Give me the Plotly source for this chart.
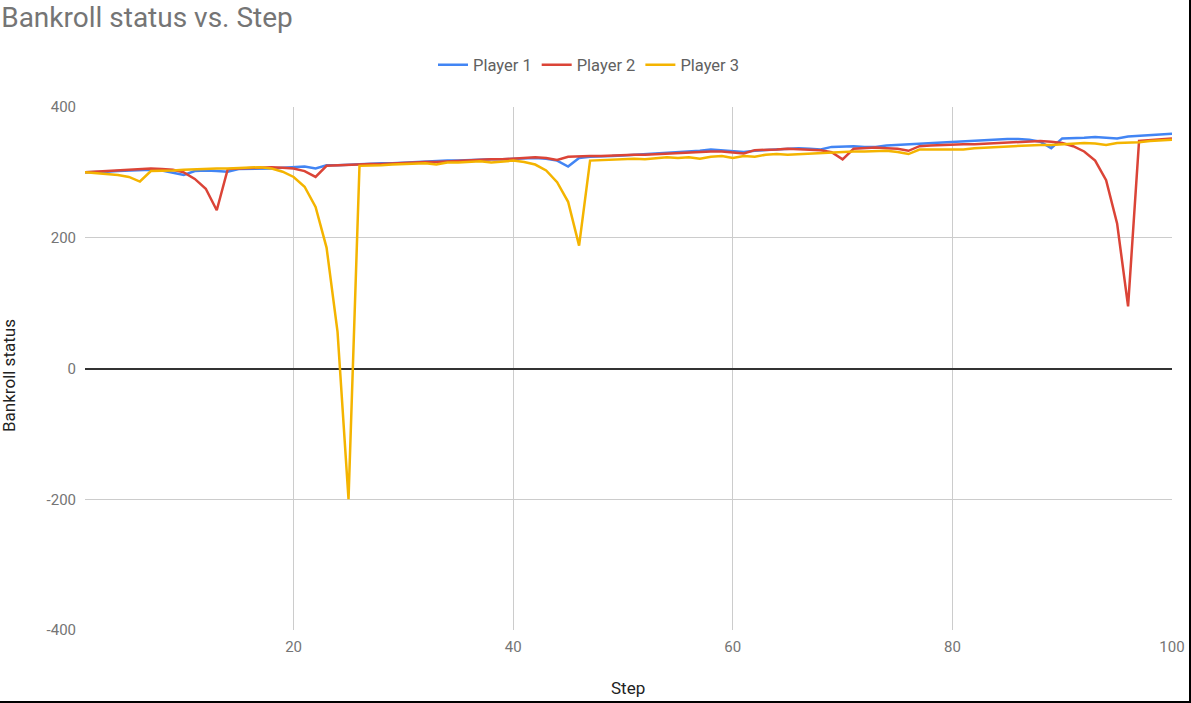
import plotly.graph_objects as go

steps = list(range(1, 101))

player1 = [300, 300, 301, 302, 303, 303, 304, 303, 299, 296,
           302, 303, 302, 301, 305, 305, 306, 306, 307, 308,
           309, 306, 311, 311, 312, 313, 313, 314, 314, 315,
           316, 316, 317, 318, 318, 319, 320, 320, 320, 321,
           322, 322, 321, 318, 309, 322, 324, 324, 325, 326,
           327, 328, 329, 330, 330, 331, 333, 335, 334, 332,
           331, 333, 334, 336, 337, 337, 336, 335, 339, 340,
           340, 339, 339, 341, 342, 343, 344, 345, 345, 346,
           347, 348, 349, 350, 351, 351, 350, 347, 337, 352,
           352, 353, 354, 353, 352, 355, 356, 357, 357, 359]

player2 = [300, 301, 302, 303, 304, 305, 306, 305, 304, 300,
           290, 275, 242, 305, 306, 307, 307, 308, 307, 306,
           302, 293, 310, 311, 312, 312, 313, 313, 314, 315,
           316, 316, 316, 317, 318, 318, 319, 320, 320, 321,
           323, 323, 322, 319, 324, 325, 325, 325, 326, 326,
           327, 327, 328, 329, 329, 330, 331, 332, 332, 331,
           329, 334, 334, 335, 336, 335, 335, 334, 331, 320,
           336, 337, 338, 337, 336, 333, 340, 341, 342, 342,
           343, 343, 344, 345, 346, 347, 347, 348, 347, 345,
           340, 332, 318, 288, 222, 95, 348, 349, 350, 352]

player3 = [300, 299, 298, 296, 293, 286, 302, 302, 303, 304,
           305, 305, 306, 306, 307, 308, 308, 306, 301, 293,
           278, 247, 185, 56, -200, 310, 310, 311, 312, 313,
           313, 314, 312, 315, 315, 316, 317, 315, 317, 318,
           316, 312, 303, 285, 255, 188, 318, 319, 320, 320,
           321, 320, 322, 323, 322, 323, 321, 324, 325, 322,
           325, 324, 327, 328, 327, 328, 329, 330, 330, 331,
           332, 332, 333, 333, 331, 328, 335, 335, 336, 336,
           335, 337, 338, 338, 339, 340, 341, 342, 342, 343,
           344, 345, 344, 342, 345, 345, 346, 348, 349, 350]

series_names = ["Player 1", "Player 2", "Player 3"]
series_colors = ["#4285F4", "#DB4437", "#F4B400"]
x_ticks = [20, 40, 60, 80, 100]
y_ticks = [-400, -200, 0, 200, 400]
y_tick_labels = ["-400", "-200", "0", "200", "400"]

W, H = 1191, 703
L, R, T, B = 85, 19, 107, 73
pw, ph = W - L - R, H - T - B

def px_x(p):
    return (p - L) / pw

def px_y(p):
    return (H - B - p) / ph

fig = go.Figure()
for name, vals, col in zip(series_names, [player1, player2, player3], series_colors):
    fig.add_trace(go.Scatter(x=steps, y=vals, mode="lines", name=name,
                             line=dict(color=col, width=2.5)))

fig.update_layout(
    width=W, height=H, autosize=False,
    margin=dict(l=L, r=R, t=T, b=B, autoexpand=False),
    paper_bgcolor="white", plot_bgcolor="white",
    font=dict(family="Roboto", size=14, color="#757575"),
    title=dict(text="Bankroll status vs. Step", x=0.001, xref="container", xanchor="left",
               y=1 - 17 / H, yref="container", yanchor="middle",
               font=dict(family="Roboto", size=28, color="#757575")),
    legend=dict(orientation="h", xref="container", yref="container",
                x=589 / W, xanchor="center", y=1 - 65 / H, yanchor="middle",
                font=dict(family="Roboto", size=16.5, color="#616161"),
                itemwidth=30, bgcolor="rgba(0,0,0,0)"),
    showlegend=True,
)

fig.update_xaxes(range=[1, 100], tickvals=x_ticks, showgrid=True, gridcolor="#cccccc",
                 gridwidth=1, zeroline=False, showline=False, ticks="", ticklabelstandoff=6,
                 automargin=False, ticklabeloverflow="allow",
                 tickfont=dict(family="Roboto", size=15, color="#757575"))
fig.update_yaxes(range=[-400, 400], tickvals=y_ticks, ticktext=y_tick_labels,
                 showgrid=True, gridcolor="#cccccc", automargin=False,
                 gridwidth=1, zeroline=True, zerolinecolor="#333333", zerolinewidth=1.5,
                 showline=False, ticks="", ticklabelstandoff=8,
                 tickfont=dict(family="Roboto", size=15, color="#757575"))

fig.add_annotation(text="Step", xref="paper", yref="paper", x=px_x(628), y=px_y(688),
                   showarrow=False, xanchor="center", yanchor="middle",
                   font=dict(family="Roboto", size=17, color="#222222"))
fig.add_annotation(text="Bankroll status", xref="paper", yref="paper", x=px_x(9), y=px_y(376),
                   showarrow=False, xanchor="center", yanchor="middle", textangle=-90,
                   font=dict(family="Roboto", size=17, color="#222222"))

fig.add_shape(type="line", xref="paper", yref="paper", x0=px_x(1190), x1=px_x(1190),
              y0=px_y(0), y1=px_y(703), line=dict(color="black", width=2))
fig.add_shape(type="line", xref="paper", yref="paper", x0=px_x(0), x1=px_x(1191),
              y0=px_y(702), y1=px_y(702), line=dict(color="black", width=2))

fig.write_html("out.html",
               config={"displayModeBar": False, "responsive": False},
               post_script="document.body.style.margin='0';document.body.style.overflow='hidden';"
                           "document.documentElement.style.overflow='hidden';")
